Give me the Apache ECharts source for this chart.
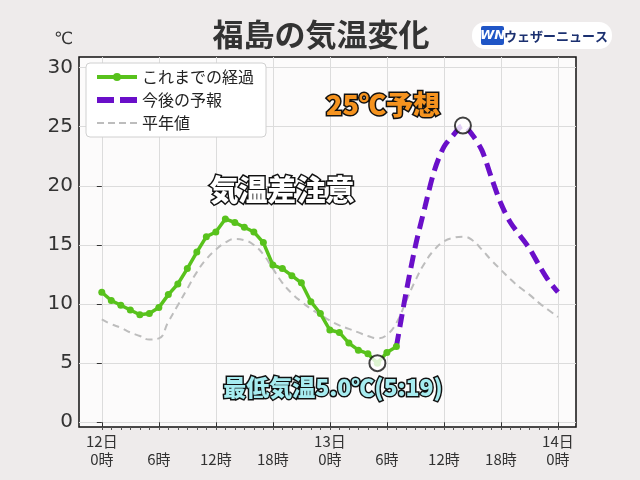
<!DOCTYPE html>
<html>
<head>
<meta charset="utf-8">
<script src="https://cdn.jsdelivr.net/npm/echarts@6/dist/echarts.min.js"></script>
<style>
  html, body { margin: 0; padding: 0; background: #eeebeb; }
  #main { width: 640px; height: 480px; }
</style>
</head>
<body>
<div id="main"></div>
<script>
// hour offsets from 12日0時
var xTicks = [0, 6, 12, 18, 24, 30, 36, 42, 48];
var xTickLabels = ["12日\n0時", "\n6時", "\n12時", "\n18時", "13日\n0時", "\n6時", "\n12時", "\n18時", "14日\n0時"];
var yTicks = [0, 5, 10, 15, 20, 25, 30];

// これまでの経過 (hourly from 12日0時)
var observedStart = 0;
var observedTemps = [11.0, 10.3, 9.9, 9.5, 9.1, 9.2, 9.7, 10.8, 11.7, 13.0, 14.4, 15.7, 16.1, 17.2, 16.9, 16.5,
  16.1, 15.2, 13.3, 13.0, 12.4, 11.8, 10.2, 9.2, 7.8, 7.6, 6.7, 6.1, 5.8, 5.0, 5.9, 6.4];

// 今後の予報 (hourly from 13日7時)
var forecastStart = 31;
var forecastTemps = [6.4, 10.9, 14.9, 18.2, 21.3, 23.3, 24.3, 25.1, 24.3, 23.0, 20.7, 18.5, 16.9, 15.8, 14.7, 13.3, 12.0, 11.0];

// 平年値 (hourly from 12日0時)
var normalStart = 0;
var normalTemps = [8.7, 8.3, 8.0, 7.6, 7.3, 7.0, 7.1, 8.5, 9.9, 11.3, 12.7, 13.8, 14.6, 15.2, 15.5, 15.4,
  15.0, 14.2, 13.0, 11.8, 10.9, 10.2, 9.6, 9.1, 8.6, 8.2, 7.9, 7.6, 7.3, 7.1, 7.4, 8.4,
  10.2, 12.0, 13.5, 14.6, 15.3, 15.6, 15.7, 15.4, 14.6, 13.7, 12.9, 12.1, 11.4, 10.8, 10.1, 9.5, 8.9];

// 最低・最高の丸印 [hour, temp]
var markedPoints = [[29, 5.0], [38, 25.1]];

var seriesNames = ["これまでの経過", "今後の予報", "平年値"];
var hourly = [];
for (var h = 0; h <= 48; h++) hourly.push(h);

function toPairs(start, arr) {
  return arr.map(function (v, i) { return [start + i, v]; });
}

var myChart = echarts.init(document.getElementById("main"));
var jpFont = '"Noto Sans CJK JP", sans-serif';
var hidden = { color: "rgba(0,0,0,0)", opacity: 0, borderWidth: 0 };

var option = {
  backgroundColor: "#eeebeb",
  animation: false,
  textStyle: { fontFamily: jpFont },
  grid: {
    left: 79, right: 64, top: 57, bottom: 53,
    show: true,
    backgroundColor: "#fcfbfb",
    borderColor: "#111",
    borderWidth: 1.5
  },
  legend: {
    data: [
      { name: seriesNames[0], lineStyle: { width: 4 } },
      { name: seriesNames[1], itemStyle: hidden, lineStyle: { width: 6, type: [17, 6] } },
      { name: seriesNames[2], itemStyle: hidden, lineStyle: { width: 2, type: [7, 4] } }
    ],
    orient: "vertical",
    left: 86,
    top: 63,
    backgroundColor: "#fff",
    borderColor: "#d0d0d0",
    borderWidth: 1,
    borderRadius: 4,
    padding: [6, 12, 6, 8],
    itemGap: 7,
    itemWidth: 40,
    itemHeight: 10,
    textStyle: { fontSize: 16, color: "#222", fontFamily: jpFont }
  },
  xAxis: [
    {
      type: "value",
      min: -2.4,
      max: 49.9,
      axisLine: { show: false },
      axisTick: { show: true, customValues: xTicks, length: 5, lineStyle: { color: "#333" } },
      axisLabel: {
        customValues: xTicks,
        color: "#333",
        fontSize: 15,
        lineHeight: 18,
        margin: 5,
        formatter: function (v) { return xTickLabels[xTicks.indexOf(v)]; }
      },
      splitLine: { show: true, lineStyle: { color: "#dcdcdc", width: 1 } }
    },
    {
      type: "value",
      min: -2.4,
      max: 49.9,
      position: "bottom",
      axisLine: { show: false },
      axisTick: { show: true, customValues: hourly, length: 3, lineStyle: { color: "#555" } },
      axisLabel: { show: false },
      splitLine: { show: false }
    }
  ],
  yAxis: {
    type: "value",
    min: -0.4,
    max: 30.9,
    axisLine: { show: false },
    axisTick: { show: true, customValues: yTicks, length: 5, lineStyle: { color: "#333" } },
    axisLabel: { customValues: yTicks, color: "#333", fontSize: 20, margin: 6, fontFamily: "DejaVu Sans" },
    splitLine: { show: true, lineStyle: { color: "#dcdcdc", width: 1 } }
  },
  series: [
    {
      name: seriesNames[2],
      type: "line",
      smooth: true,
      showSymbol: false,
      symbol: "none",
      z: 2,
      itemStyle: { color: "#bdbdbd" },
      lineStyle: { color: "#bdbdbd", width: 2, type: [7, 5] },
      data: toPairs(normalStart, normalTemps)
    },
    {
      name: seriesNames[1],
      type: "line",
      smooth: 0.3,
      showSymbol: false,
      symbol: "none",
      z: 3,
      itemStyle: { color: "#6a0fc9" },
      lineStyle: { color: "#6a0fc9", width: 5, type: [13, 7], cap: "butt" },
      data: toPairs(forecastStart, forecastTemps)
    },
    {
      name: seriesNames[0],
      type: "line",
      symbol: "circle",
      symbolSize: 7,
      showSymbol: true,
      z: 4,
      itemStyle: { color: "#58c21c" },
      lineStyle: { color: "#58c21c", width: 3.5 },
      data: toPairs(observedStart, observedTemps)
    },
    {
      type: "scatter",
      symbol: "circle",
      symbolSize: 16,
      z: 5,
      itemStyle: { color: "#fff", borderColor: "#111", borderWidth: 2 },
      data: markedPoints
    }
  ],
  graphic: [
    {
      type: "text", left: 54, top: 31,
      style: { text: "℃", fontSize: 17, fill: "#333", fontFamily: "DejaVu Sans" }
    },
    {
      type: "text", x: 321, y: 34,
      style: { text: "福島の気温変化", fontSize: 31, fontWeight: "bold", fill: "#333",
        align: "center", verticalAlign: "middle", fontFamily: jpFont }
    },
    {
      type: "rect", shape: { x: 472, y: 22, width: 140, height: 27, r: 13 },
      style: { fill: "#fff" }
    },
    {
      type: "rect", shape: { x: 481, y: 26, width: 23, height: 19, r: 2 },
      style: { fill: "#1f55c6" }
    },
    {
      type: "text", x: 492.5, y: 36,
      style: { text: "WN", fontSize: 13, fontWeight: "bold", fontStyle: "italic", fill: "#fff", align: "center",
        verticalAlign: "middle", fontFamily: "DejaVu Sans" }
    },
    {
      type: "text", x: 556, y: 36,
      style: { text: "ウェザーニュース", fontSize: 13, fontWeight: "bold", fill: "#1b3070",
        align: "center", verticalAlign: "middle", fontFamily: jpFont }
    },
    {
      type: "text", x: 383, y: 105, z: 10,
      style: { text: "25℃予想", fontSize: 27, fontWeight: 900, fill: "#f5931f",
        stroke: "#111", lineWidth: 3, align: "center", verticalAlign: "middle", fontFamily: jpFont }
    },
    {
      type: "text", x: 282, y: 190, z: 10,
      style: { text: "気温差注意", fontSize: 29, fontWeight: 900, fill: "#fff",
        stroke: "#111", lineWidth: 3, align: "center", verticalAlign: "middle", fontFamily: jpFont }
    },
    {
      type: "text", x: 333, y: 387, z: 10,
      style: { text: "最低気温5.0℃(5:19)", fontSize: 23, fontWeight: 900, fill: "#a6ecf0",
        stroke: "#111", lineWidth: 3, align: "center", verticalAlign: "middle", fontFamily: jpFont }
    }
  ]
};

myChart.setOption(option);
</script>
</body>
</html>
